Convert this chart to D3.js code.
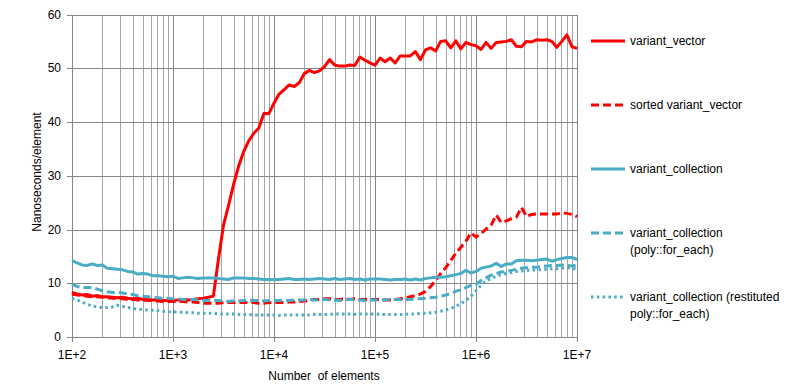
<!DOCTYPE html>
<html>
<head>
<meta charset="utf-8">
<script src="https://cdn.jsdelivr.net/npm/d3@7"></script>
<style>
  body { margin: 0; background: #fff; }
  svg { display: block; font-family: "Liberation Sans", Arial, sans-serif; }
</style>
</head>
<body>
<div id="chartDiv"></div>
<script>
// log10 of the number of elements, one entry per measured point
var exps = [
  2.00, 2.05, 2.10, 2.15, 2.20, 2.25, 2.30, 2.35, 2.40, 2.45, 2.50, 2.55, 2.60, 2.65, 2.70, 2.75, 2.80, 2.85, 2.90, 2.95,
  3.00, 3.05, 3.10, 3.15, 3.20, 3.25, 3.30, 3.35, 3.40, 3.45, 3.50, 3.55, 3.60, 3.65, 3.70, 3.75, 3.80, 3.85, 3.90, 3.95,
  4.00, 4.05, 4.10, 4.15, 4.20, 4.25, 4.30, 4.35, 4.40, 4.45, 4.50, 4.55, 4.60, 4.65, 4.70, 4.75, 4.80, 4.85, 4.90, 4.95,
  5.00, 5.05, 5.10, 5.15, 5.20, 5.25, 5.30, 5.35, 5.40, 5.45, 5.50, 5.55, 5.60, 5.65, 5.70, 5.75, 5.80, 5.85, 5.90, 5.95,
  6.00, 6.05, 6.10, 6.15, 6.20, 6.25, 6.30, 6.35, 6.40, 6.45, 6.50, 6.55, 6.60, 6.65, 6.70, 6.75, 6.80, 6.85, 6.90, 6.95,
  7.00
];

var variantVector = [
  8.3, 8.0, 7.8, 7.9, 7.6, 7.7, 7.5, 7.5, 7.4, 7.3, 7.4, 7.2, 7.1, 7.2, 7.0, 7.0, 6.9, 7.0, 6.8, 6.8,
  6.8, 6.9, 7.0, 6.9, 7.0, 7.1, 7.2, 7.4, 7.6, 14.5, 20.8, 24.5, 28.4, 31.8, 34.5, 36.5, 37.9, 38.9, 41.6, 41.6,
  43.5, 45.2, 46.0, 46.9, 46.6, 47.3, 49.0, 49.6, 49.2, 49.5, 50.3, 51.6, 50.6, 50.4, 50.4, 50.6, 50.5, 52.1, 51.5, 51.0,
  50.6, 51.9, 51.2, 51.9, 51.0, 52.3, 52.3, 52.3, 53.1, 51.6, 53.4, 53.8, 53.2, 55.0, 55.1, 53.8, 55.1, 53.6, 54.8, 54.4,
  54.2, 53.5, 54.8, 53.7, 54.8, 54.9, 55.0, 55.3, 54.1, 54.0, 55.0, 54.9, 55.3, 55.2, 55.3, 55.0, 53.9, 55.0, 56.2, 54.0,
  53.7
];

var sortedVariantVector = [
  8.0, 7.8, 7.7, 7.6, 7.5, 7.5, 7.4, 7.3, 7.2, 7.2, 7.1, 7.0, 7.0, 6.9, 6.9, 6.8, 6.8, 6.7, 6.6, 6.6,
  6.6, 6.6, 6.6, 6.5, 6.5, 6.4, 6.3, 6.3, 6.3, 6.3, 6.4, 6.4, 6.4, 6.4, 6.4, 6.4, 6.4, 6.3, 6.3, 6.4,
  6.4, 6.4, 6.4, 6.5, 6.5, 6.6, 6.7, 6.8, 7.0, 7.0, 7.1, 7.1, 7.0, 7.0, 7.1, 7.0, 7.1, 7.0, 7.0, 7.0,
  7.0, 7.0, 6.9, 6.9, 7.0, 7.1, 7.3, 7.5, 7.7, 8.0, 8.5, 9.4, 10.5, 11.8, 12.9, 14.2, 15.6, 16.7, 17.8, 19.4,
  18.6, 19.2, 20.1, 20.8, 22.7, 21.3, 21.6, 22.0, 22.3, 24.1, 22.4, 22.8, 22.9, 22.9, 22.9, 22.9, 22.9, 23.1, 23.0, 22.8,
  22.4
];

var variantCollection = [
  14.2, 13.8, 13.4, 13.3, 13.6, 13.3, 13.4, 12.8, 12.7, 12.6, 12.5, 12.2, 12.1, 11.7, 11.8, 11.7, 11.4, 11.4, 11.3, 11.2,
  11.3, 10.9, 11.0, 11.1, 11.0, 10.9, 11.0, 11.0, 11.0, 10.9, 10.8, 10.7, 11.0, 11.0, 11.0, 10.9, 10.9, 10.8, 10.7, 10.7,
  10.7, 10.7, 10.8, 10.9, 10.7, 10.7, 10.8, 10.7, 10.8, 10.9, 10.8, 10.7, 10.9, 10.7, 10.8, 10.9, 10.7, 10.8, 10.6, 10.8,
  10.8, 10.8, 10.7, 10.6, 10.7, 10.7, 10.8, 10.6, 10.8, 10.6, 10.9, 11.0, 11.1, 11.1, 11.2, 11.4, 11.6, 11.8, 12.4, 11.9,
  12.2, 12.8, 13.0, 13.2, 13.7, 13.1, 13.6, 13.6, 14.2, 14.3, 14.3, 14.2, 14.3, 14.4, 14.5, 14.1, 14.4, 14.6, 14.8, 14.8,
  14.4
];

var collectionForEach = [
  9.8, 9.4, 9.2, 9.2, 9.2, 8.9, 8.6, 8.4, 8.3, 8.3, 8.2, 8.0, 7.9, 7.7, 7.6, 7.5, 7.4, 7.3, 7.2, 7.2,
  7.1, 7.1, 7.0, 7.0, 7.0, 6.9, 6.8, 6.8, 6.8, 6.8, 6.7, 6.6, 6.7, 6.7, 6.8, 6.9, 6.8, 6.8, 6.7, 6.8,
  6.8, 6.8, 6.8, 6.8, 6.9, 6.9, 6.9, 7.0, 6.9, 6.9, 7.0, 6.9, 6.9, 6.8, 6.9, 7.0, 6.9, 6.9, 6.8, 6.9,
  6.9, 6.9, 6.9, 7.0, 7.0, 7.0, 7.0, 7.0, 7.1, 7.1, 7.2, 7.3, 7.4, 7.6, 7.8, 8.1, 8.5, 8.8, 9.2, 9.6,
  9.8, 10.5, 11.0, 11.5, 11.8, 12.1, 12.2, 12.4, 12.6, 12.8, 12.9, 13.0, 13.0, 13.1, 13.2, 13.3, 13.3, 13.4, 13.3, 13.2,
  13.4
];

var collectionRestituted = [
  7.2, 6.9, 6.5, 6.1, 5.8, 5.6, 5.5, 5.5, 5.6, 5.9, 5.7, 5.5, 5.3, 5.2, 5.1, 5.0, 5.0, 4.9, 4.8, 4.7,
  4.7, 4.6, 4.6, 4.5, 4.5, 4.4, 4.4, 4.4, 4.4, 4.3, 4.3, 4.3, 4.3, 4.2, 4.2, 4.2, 4.1, 4.1, 4.1, 4.1,
  4.1, 4.0, 4.1, 4.1, 4.1, 4.1, 4.1, 4.1, 4.2, 4.2, 4.2, 4.2, 4.3, 4.3, 4.3, 4.3, 4.2, 4.3, 4.3, 4.3,
  4.3, 4.2, 4.2, 4.2, 4.2, 4.2, 4.2, 4.3, 4.3, 4.4, 4.4, 4.5, 4.6, 4.8, 5.0, 5.3, 5.7, 6.2, 6.8, 7.6,
  8.6, 9.6, 10.4, 10.9, 11.3, 11.6, 11.8, 12.0, 12.2, 12.3, 12.4, 12.4, 12.5, 12.5, 12.6, 12.7, 12.7, 12.8, 12.9, 12.8,
  12.6
];

var seriesNames = [
  ["variant_vector"],
  ["sorted variant_vector"],
  ["variant_collection"],
  ["variant_collection", "(poly::for_each)"],
  ["variant_collection (restituted", "poly::for_each)"]
];
var xTicks = [1e2, 1e3, 1e4, 1e5, 1e6, 1e7];
var xTickLabels = ["1E+2", "1E+3", "1E+4", "1E+5", "1E+6", "1E+7"];
var yTicks = [0, 10, 20, 30, 40, 50, 60];

var red = "#ff0000", teal = "#4bacc6";
var styles = [
  {color: red, dash: null},
  {color: red, dash: "8,4"},
  {color: teal, dash: null},
  {color: teal, dash: "8,4"},
  {color: teal, dash: "2.5,3.3"}
];
var allValues = [variantVector, sortedVariantVector, variantCollection, collectionForEach, collectionRestituted];

var svg = d3.select("#chartDiv").append("svg")
    .attr("width", 795)
    .attr("height", 390);

var plot = {left: 72, right: 577, top: 14.5, bottom: 337};

var x_scale = d3.scaleLog()
    .domain([1e2, 1e7])
    .range([plot.left, plot.right]);

var y_scale = d3.scaleLinear()
    .domain([0, 60])
    .range([plot.bottom, plot.top]);

// minor log grid lines (2..9 in each decade)
var minorTicks = [];
xTicks.slice(0, -1).forEach(function(t) {
  for (var k = 2; k < 10; k++) minorTicks.push(t * k);
});

var grid = svg.append("g").attr("shape-rendering", "crispEdges");

grid.selectAll(".minor").data(minorTicks).enter().append("line")
    .attr("x1", function(d) { return Math.round(x_scale(d)) + 0.5; })
    .attr("x2", function(d) { return Math.round(x_scale(d)) + 0.5; })
    .attr("y1", plot.top).attr("y2", plot.bottom)
    .attr("stroke", "#a6a6a6");

grid.selectAll(".hgrid").data(yTicks).enter().append("line")
    .attr("x1", plot.left).attr("x2", plot.right)
    .attr("y1", function(d) { return Math.round(y_scale(d)) + 0.5; })
    .attr("y2", function(d) { return Math.round(y_scale(d)) + 0.5; })
    .attr("stroke", "#868686");

grid.selectAll(".major").data(xTicks).enter().append("line")
    .attr("x1", function(d) { return Math.round(x_scale(d)) + 0.5; })
    .attr("x2", function(d) { return Math.round(x_scale(d)) + 0.5; })
    .attr("y1", plot.top).attr("y2", plot.bottom + 5)
    .attr("stroke", "#868686");

// y axis ticks
grid.selectAll(".ytick").data(yTicks).enter().append("line")
    .attr("x1", plot.left - 5).attr("x2", plot.left)
    .attr("y1", function(d) { return Math.round(y_scale(d)) + 0.5; })
    .attr("y2", function(d) { return Math.round(y_scale(d)) + 0.5; })
    .attr("stroke", "#868686");

svg.append("g").selectAll("text").data(yTicks).enter().append("text")
    .attr("x", 61)
    .attr("y", function(d) { return y_scale(d) + 4; })
    .attr("text-anchor", "end")
    .attr("font-size", "12px")
    .attr("fill", "#000")
    .text(function(d) { return d; });

svg.append("g").selectAll("text").data(xTicks).enter().append("text")
    .attr("x", function(d) { return x_scale(d); })
    .attr("y", 359)
    .attr("text-anchor", "middle")
    .attr("font-size", "12px")
    .text(function(d, i) { return xTickLabels[i]; });

svg.append("text")
    .attr("x", 324).attr("y", 380)
    .attr("text-anchor", "middle")
    .attr("font-size", "12px")
    .attr("xml:space", "preserve")
    .text("Number  of elements");

svg.append("text")
    .attr("transform", "translate(41,172) rotate(-90)")
    .attr("text-anchor", "middle")
    .attr("font-size", "12px")
    .text("Nanoseconds/element");

var line = d3.line()
    .x(function(d) { return x_scale(Math.pow(10, d[0])); })
    .y(function(d) { return y_scale(d[1]); });

var lines = svg.append("g");
allValues.forEach(function(vals, i) {
  var pts = exps.map(function(e, j) { return [e, vals[j]]; });
  lines.append("path")
      .attr("d", line(pts))
      .attr("fill", "none")
      .attr("stroke", styles[i].color)
      .attr("stroke-width", 3)
      .attr("stroke-linejoin", "round")
      .attr("stroke-dasharray", styles[i].dash);
});

// legend
var legendY = [41, 105, 169, 233, 297];
var legend = svg.append("g");
seriesNames.forEach(function(names, i) {
  legend.append("line")
      .attr("x1", 591).attr("x2", 625)
      .attr("y1", legendY[i]).attr("y2", legendY[i])
      .attr("stroke", styles[i].color)
      .attr("stroke-width", 3)
      .attr("stroke-dasharray", styles[i].dash);
  names.forEach(function(n, k) {
    legend.append("text")
        .attr("x", 630)
        .attr("y", legendY[i] + 4 + k * 16.5)
        .attr("font-size", "12px")
        .text(n);
  });
});
</script>
</body>
</html>
